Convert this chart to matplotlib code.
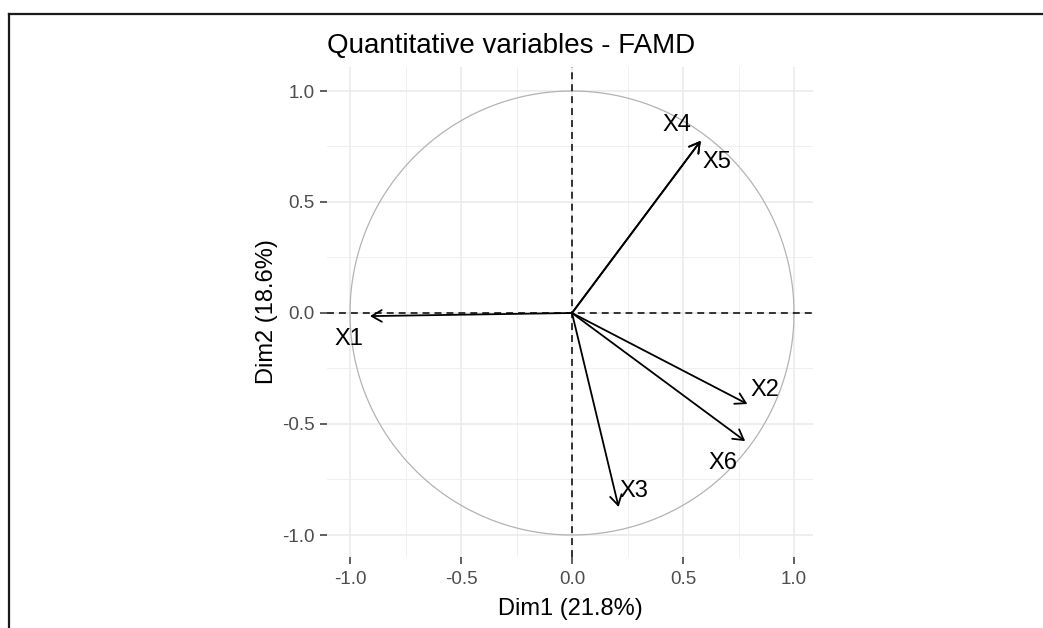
import matplotlib
matplotlib.use("Agg")
import matplotlib.pyplot as plt
from matplotlib.lines import Line2D
import numpy as np

# ---- data ----
variables = ["X1", "X2", "X3", "X4", "X5", "X6"]
dim1 = [-0.91, 0.79, 0.21, 0.58, 0.58, 0.78]
dim2 = [-0.014, -0.41, -0.874, 0.776, 0.776, -0.577]
tick_values = [-1.0, -0.5, 0.0, 0.5, 1.0]
tick_labels = ["-1.0", "-0.5", "0.0", "0.5", "1.0"]
title = "Quantitative variables - FAMD"
xlabel = "Dim1 (21.8%)"
ylabel = "Dim2 (18.6%)"

# label offsets in pixels (repel-like placement)
label_offsets = {"X1": (-21, -23), "X2": (18, 14), "X3": (15, 16),
                 "X4": (-24, 16), "X5": (16, -21), "X6": (-22, -22)}

plt.rcParams['font.family'] = ['Liberation Sans', 'DejaVu Sans']
plt.rcParams['lines.scale_dashes'] = False

W, H = 1043, 628
fig = plt.figure(figsize=(W / 100, H / 100), dpi=100)
fig.patch.set_facecolor("white")

L, R, T, B = 327, 813, 67, 557
ax = fig.add_axes([L / W, 1 - B / H, (R - L) / W, (B - T) / H])
ax.set_xlim((L - 572) / 222, (R - 572) / 222)
ax.set_ylim((313 - B) / 222, (313 - T) / 222)

for s in ax.spines.values():
    s.set_visible(False)

# grid
ax.set_xticks(tick_values)
ax.set_yticks(tick_values)
ax.set_xticklabels(tick_labels)
ax.set_yticklabels(tick_labels)
minor = [-0.75, -0.25, 0.25, 0.75]
ax.set_xticks(minor, minor=True)
ax.set_yticks(minor, minor=True)
ax.grid(True, which="major", color="#EBEBEB", lw=1.2, zorder=0)
ax.grid(True, which="minor", color="#EFEFEF", lw=0.7, zorder=0)
ax.set_axisbelow(True)
ax.tick_params(which="minor", length=0)
ax.tick_params(axis="both", which="major", length=5, width=1.1, color="#333333",
               labelsize=13.5, labelcolor="#4D4D4D")
ax.tick_params(axis="x", pad=5)
ax.tick_params(axis="y", pad=4)

# circle
theta = np.linspace(0, 2 * np.pi, 400)
ax.plot(np.cos(theta), np.sin(theta), color="#B3B3B3", lw=0.9, zorder=1)

# dashed axes
ax.axhline(0, color="black", lw=1.1, ls=(0, (5, 3.6)), zorder=2)
ax.axvline(0, color="black", lw=1.1, ls=(0, (5, 3.6)), zorder=2)

# arrows
for name, x, y in zip(variables, dim1, dim2):
    ax.annotate("", xy=(x, y), xytext=(0, 0),
                arrowprops=dict(arrowstyle="->,head_length=0.72,head_width=0.42",
                                color="black", lw=1.3, shrinkA=0, shrinkB=0,
                                mutation_scale=10), zorder=3)
    dx, dy = label_offsets[name]
    ax.annotate(name, xy=(x, y), xytext=(dx, dy), textcoords="offset pixels",
                ha="center", va="center", fontsize=17, color="black", zorder=4)

ax.set_xlabel(xlabel, fontsize=17, color="black", labelpad=7)
ax.set_ylabel(ylabel, fontsize=17, color="black", labelpad=3)

fig.text(L / W, 1 - 53 / H, title, fontsize=20, ha="left", va="baseline", color="black")

# screenshot border
fig.add_artist(Line2D([8.5 / W, 1.0], [1 - 14 / H, 1 - 14 / H], color="#1A1A1A", lw=1.6,
                      transform=fig.transFigure))
fig.add_artist(Line2D([8.5 / W, 8.5 / W], [1 - 14 / H, 0.0], color="#1A1A1A", lw=1.6,
                      transform=fig.transFigure))

fig.savefig("out.png", dpi=100)
